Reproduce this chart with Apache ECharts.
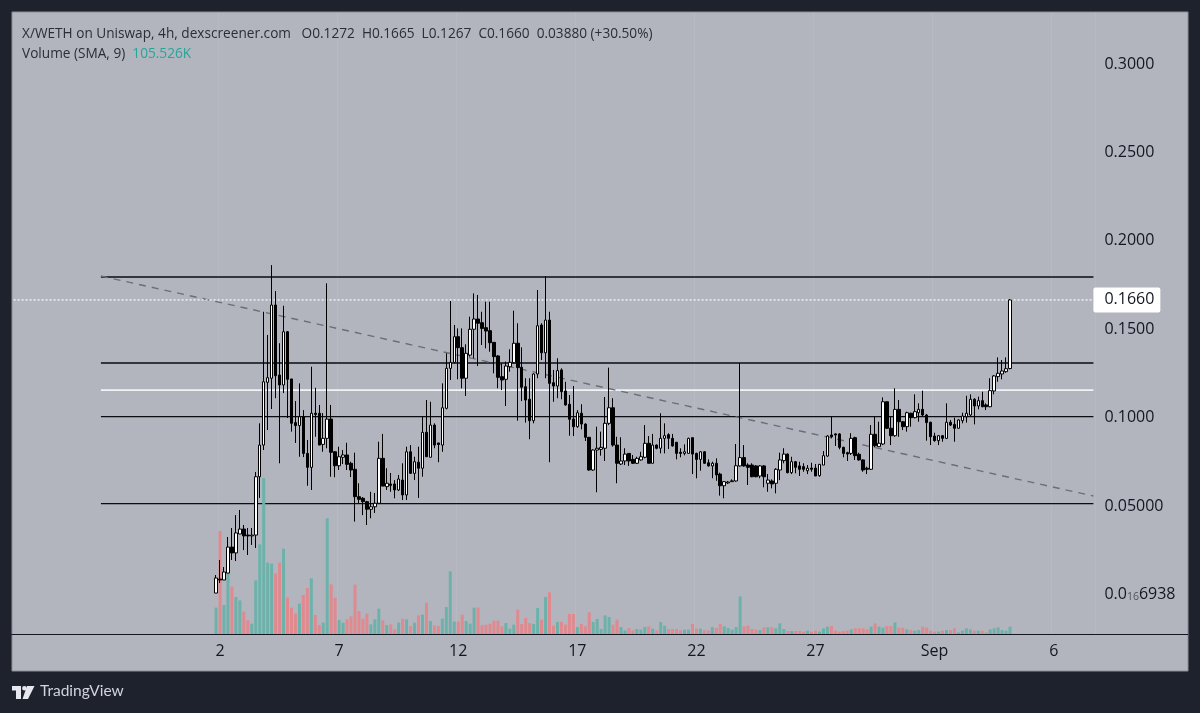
<!DOCTYPE html>
<html>
<head>
<meta charset="utf-8">
<title>X/WETH on Uniswap</title>
<style>
  html, body { margin: 0; background: #1e222d; }
  #chart { width: 1200px; height: 713px; }
</style>
<script src="https://cdn.jsdelivr.net/npm/echarts@6/dist/echarts.min.js"></script>
</head>
<body>
<div id="chart"></div>
<script>
// 4h candles, 201 of them, ten to a row
const opens = [
  .0002,.0081,.0076,.0115,.0262,.0229,.0336,.0364,.0330,.0325,
  .0330,.0660,.0839,.1194,.1217,.1631,.1235,.1179,.1480,.1213,
  .0966,.0949,.0999,.0792,.0713,.1019,.1019,.0843,.0877,.0986,
  .0801,.0722,.0770,.0783,.0736,.0702,.0547,.0538,.0519,.0476,
  .0490,.0510,.0764,.0604,.0619,.0619,.0585,.0641,.0557,.0801,
  .0679,.0742,.0708,.0911,.0770,.0952,.0851,.0839,.1047,.1273,
  .1307,.1452,.1390,.1217,.1348,.1494,.1552,.1531,.1503,.1486,
  .1420,.1343,.1226,.1211,.1282,.1305,.1415,.1279,.1169,.1098,
  .0977,.1241,.1518,.1361,.1546,.1192,.1173,.1264,.1145,.1070,
  .0986,.0943,.1019,.0958,.0883,.0698,.0811,.0815,.0821,.0962,
  .1050,.0839,.0732,.0749,.0792,.0758,.0736,.0755,.0770,.0849,
  .0736,.0839,.0821,.0877,.0898,.0877,.0855,.0798,.0792,.0792,
  .0881,.0792,.0758,.0801,.0739,.0721,.0736,.0675,.0609,.0625,
  .0632,.0636,.0721,.0768,.0726,.0726,.0721,.0664,.0721,.0623,
  .0636,.0623,.0698,.0751,.0788,.0683,.0745,.0721,.0717,.0694,
  .0709,.0709,.0666,.0726,.0777,.0896,.0902,.0902,.0826,.0796,
  .0792,.0881,.0787,.0755,.0708,.0702,.0900,.0830,.0845,.1084,
  .0934,.0892,.1041,.0971,.0943,.1019,.0994,.1022,.1041,.1009,
  .0968,.0890,.0864,.0892,.0877,.0968,.0956,.0934,.0977,.0999,
  .1009,.1098,.1060,.1090,.1066,.1056,.1145,.1226,.1241,.1254,.1272
];
const closes = [
  .0087,.0076,.0121,.0262,.0229,.0342,.0364,.0325,.0325,.0330,
  .0660,.0839,.1197,.1220,.1631,.1231,.1179,.1480,.1211,.0962,
  .0949,.0999,.0792,.0713,.1019,.1012,.0839,.0877,.0986,.0798,
  .0722,.0773,.0783,.0730,.0698,.0547,.0532,.0519,.0476,.0490,
  .0510,.0764,.0607,.0623,.0611,.0585,.0647,.0557,.0801,.0679,
  .0745,.0708,.0911,.0773,.0952,.0839,.0842,.1050,.1273,.1307,
  .1452,.1390,.1217,.1358,.1494,.1552,.1528,.1499,.1484,.1418,
  .1339,.1222,.1207,.1286,.1307,.1415,.1277,.1166,.1094,.0977,
  .1241,.1514,.1361,.1546,.1188,.1173,.1260,.1141,.1066,.0985,
  .0943,.1022,.0958,.0883,.0698,.0811,.0821,.0826,.0962,.1050,
  .0839,.0736,.0749,.0788,.0749,.0736,.0764,.0773,.0849,.0736,
  .0839,.0821,.0877,.0892,.0877,.0834,.0792,.0792,.0801,.0877,
  .0788,.0758,.0801,.0736,.0721,.0736,.0670,.0609,.0632,.0630,
  .0637,.0722,.0768,.0721,.0713,.0660,.0660,.0721,.0660,.0641,
  .0619,.0702,.0755,.0788,.0683,.0745,.0713,.0702,.0702,.0708,
  .0702,.0664,.0730,.0779,.0890,.0886,.0896,.0826,.0792,.0788,
  .0877,.0779,.0755,.0698,.0702,.0900,.0835,.0849,.1084,.0934,
  .0892,.1041,.0971,.0943,.1022,.0994,.1028,.1041,.1009,.0966,
  .0886,.0864,.0892,.0877,.0968,.0952,.0934,.0981,.1003,.1019,
  .1098,.1060,.1090,.1056,.1056,.1147,.1230,.1245,.1258,.1271,.1660
];
const lows = [
  .0002,.0059,.0076,.0115,.0189,.0183,.0336,.0245,.0217,.0274,
  .0257,.0540,.0811,.0924,.1043,.1104,.0736,.1133,.0992,.0915,
  .0851,.0773,.0771,.0609,.0585,.0886,.0839,.0801,.0821,.0660,
  .0657,.0698,.0732,.0698,.0658,.0406,.0510,.0443,.0387,.0425,
  .0455,.0510,.0607,.0585,.0575,.0538,.0579,.0528,.0528,.0679,
  .0641,.0540,.0660,.0773,.0770,.0821,.0742,.0801,.1041,.1207,
  .1301,.1211,.1160,.1117,.1339,.1330,.1286,.1405,.1386,.1367,
  .1245,.1160,.1150,.1060,.1254,.1301,.0977,.1088,.0966,.0872,
  .0962,.1217,.1320,.1217,.0742,.1084,.1104,.1098,.1062,.0892,
  .0890,.0937,.0928,.0862,.0694,.0694,.0572,.0779,.0749,.0952,
  .0830,.0623,.0726,.0726,.0721,.0732,.0732,.0751,.0764,.0736,
  .0736,.0815,.0792,.0792,.0817,.0830,.0758,.0770,.0781,.0792,
  .0675,.0651,.0694,.0732,.0717,.0651,.0637,.0553,.0538,.0619,
  .0630,.0632,.0717,.0717,.0613,.0657,.0657,.0651,.0600,.0575,
  .0594,.0566,.0641,.0736,.0679,.0675,.0679,.0664,.0688,.0675,
  .0688,.0664,.0660,.0726,.0773,.0877,.0834,.0815,.0770,.0749,
  .0783,.0755,.0751,.0688,.0675,.0698,.0826,.0830,.0839,.0930,
  .0839,.0886,.0886,.0924,.0915,.0943,.0990,.0971,.1003,.0864,
  .0839,.0858,.0839,.0858,.0873,.0947,.0858,.0932,.0962,.0966,
  .1003,.0956,.1041,.1053,.1037,.1053,.1126,.1197,.1211,.1248,.1267
];
const highs = [
  .0104,.0189,.0149,.0319,.0370,.0443,.0472,.0387,.0370,.0370,
  .0687,.0962,.1593,.1462,.1857,.1710,.1415,.1627,.1484,.1213,
  .1088,.1188,.1037,.0868,.1282,.1163,.1066,.1020,.1754,.1066,
  .0805,.0830,.0811,.0852,.0745,.0796,.0623,.0545,.0523,.0575,
  .0568,.0858,.0902,.0708,.0681,.0641,.0670,.0736,.0830,.0839,
  .0773,.0830,.0999,.1094,.1084,.0962,.0851,.1188,.1358,.1654,
  .1518,.1499,.1499,.1409,.1565,.1697,.1688,.1593,.1650,.1650,
  .1420,.1348,.1301,.1311,.1381,.1599,.1528,.1392,.1217,.1217,
  .1245,.1716,.1528,.1795,.1593,.1264,.1330,.1273,.1197,.1122,
  .1173,.1037,.1070,.0962,.0883,.0815,.0943,.0915,.1111,.1277,
  .1104,.0886,.0883,.0821,.0792,.0783,.0773,.0801,.0952,.0890,
  .0902,.0843,.1019,.0962,.0906,.0902,.0855,.0821,.0843,.0881,
  .0881,.0796,.0805,.0805,.0758,.0745,.0764,.0683,.0636,.0636,
  .0645,.0845,.1303,.0839,.0736,.0736,.0726,.0726,.0726,.0675,
  .0645,.0708,.0796,.0821,.0792,.0773,.0749,.0745,.0736,.0726,
  .0739,.0732,.0732,.0805,.0896,.0999,.0906,.0906,.0830,.0801,
  .0906,.0886,.0796,.0758,.0717,.0952,.0999,.0971,.1109,.1084,
  .0999,.1160,.1094,.0975,.1028,.1022,.1126,.1075,.1147,.1015,
  .0971,.0909,.0896,.0896,.1075,.0981,.0994,.0985,.1022,.1118,
  .1126,.1104,.1113,.1141,.1075,.1217,.1235,.1335,.1320,.1335,.1665
];
// volume in thousands
const volumes = [
  527,2060,580,1227,947,740,673,447,273,207,
  1073,1793,3120,1427,1407,1213,1427,1707,727,527,
  407,607,780,920,1113,380,180,227,2313,993,
  727,280,227,293,353,987,460,307,407,193,
  293,507,273,180,193,93,227,307,293,160,
  227,373,387,627,260,173,160,307,540,1253,
  247,247,387,260,207,527,527,175,187,207,
  267,267,153,220,107,187,487,200,320,220,
  200,520,287,740,833,167,240,240,187,400,
  400,140,200,153,433,240,300,100,373,340,
  187,287,140,73,120,73,100,87,140,153,
  107,73,240,167,100,100,100,73,87,87,
  200,107,107,73,73,140,120,200,153,120,
  87,140,753,153,167,100,87,80,133,133,
  133,113,213,100,60,60,60,60,47,67,
  47,67,47,113,147,160,67,47,60,67,
  93,113,113,113,93,147,213,147,127,160,
  160,233,127,127,93,80,67,80,147,127,
  67,47,47,67,80,80,113,33,67,113,
  93,67,67,67,33,93,113,133,80,67,147
];

// drawn levels and the falling trend line
const levelPrices = [0.179, 0.1303, 0.1, 0.0508];
const midLevelPrice = 0.115;
const lastPrice = 0.166;
const trendPrices = [0.1795, 0.0551];

const priceTicks = [0, 0.05, 0.1, 0.15, 0.2, 0.25, 0.3];
const priceTickLabels = ["0.0{sub|16}6938", "0.05000", "0.1000", "0.1500", "0.2000", "0.2500", "0.3000"];
const dayTickSlots = [52, 82, 112, 142, 172, 202, 232, 262];
const dayTickLabels = ["2", "7", "12", "17", "22", "27", "Sep", "6"];

const slotCount = 273;
const firstCandleSlot = 51;
const levelStartSlot = 22;
const lastSlot = 272;

const font = "Open Sans";
const teal = "#26a69a";

const categories = Array.from({ length: slotCount }, (_, i) => {
  const at = dayTickSlots.indexOf(i);
  return at < 0 ? "" : dayTickLabels[at];
});
const showDayTick = (i, value) => value !== "";

// slots before the first candle stay empty
const candleData = categories.map((_, i) => {
  const k = i - firstCandleSlot;
  if (k < 0 || k >= opens.length) return ["-", "-", "-", "-"];
  return [opens[k], closes[k], lows[k], highs[k]];
});
const volumeData = volumes.map((v, k) => [firstCandleSlot + k, v]);

function levelSeries(price, color, width) {
  return {
    type: "line",
    data: [[levelStartSlot, price], [lastSlot, price]],
    showSymbol: false,
    silent: true,
    z: 1,
    lineStyle: { color: color, width: width },
  };
}

const myChart = echarts.init(document.getElementById("chart"));

const option = {
  animation: false,
  backgroundColor: "#1e222d",
  title: [
    {
      left: 17,
      top: 22,
      text: "X/WETH on Uniswap, 4h, dexscreener.com   O0.1272  H0.1665  L0.1267  C0.1660  0.03880 (+30.50%)",
      textStyle: { fontFamily: font, fontSize: 13.65, fontWeight: "normal", color: "#2a2e39" },
    },
    {
      left: 17,
      top: 42,
      text: "Volume (SMA, 9)  {v|105.526K}",
      textStyle: {
        fontFamily: font,
        fontSize: 13.65,
        fontWeight: "normal",
        color: "#2a2e39",
        rich: { v: { fontFamily: font, fontSize: 13.65, color: teal } },
      },
    },
  ],
  grid: { left: 11.6, top: 12, width: 1083.8, height: 622 },
  xAxis: {
    type: "category",
    data: categories,
    axisLine: { onZero: false, lineStyle: { color: "#131722", width: 1 } },
    axisTick: { show: false },
    axisLabel: {
      interval: showDayTick,
      margin: 9,
      fontFamily: font,
      fontSize: 16,
      color: "#131722",
    },
    splitLine: {
      show: true,
      interval: showDayTick,
      lineStyle: { color: "rgba(255,255,255,0.07)", width: 1 },
    },
  },
  yAxis: [
    {
      type: "value",
      position: "right",
      min: -0.02296,
      max: 0.32885,
      axisLine: { show: false },
      axisTick: { show: false },
      splitLine: { show: false },
      axisLabel: {
        customValues: priceTicks,
        margin: 9,
        align: "left",
        padding: [2, 0, 0, 0],
        fontFamily: font,
        fontSize: 16,
        color: "#131722",
        formatter: (value) => priceTickLabels[priceTicks.indexOf(value)],
        rich: { sub: { fontFamily: font, fontSize: 10.5, color: "#50535e", verticalAlign: "bottom" } },
      },
    },
    {
      type: "value",
      show: false,
      min: 0,
      max: 12440,
      splitLine: { show: false },
    },
  ],
  series: [
    ...levelPrices.map((p) => levelSeries(p, "#0b0d12", 1.4)),
    levelSeries(midLevelPrice, "#f2f3f6", 1.6),
    {
      type: "line",
      data: [[levelStartSlot, trendPrices[0]], [lastSlot, trendPrices[1]]],
      showSymbol: false,
      silent: true,
      z: 1,
      lineStyle: { color: "#6b6e78", width: 1.4, type: [7, 6] },
    },
    {
      type: "line",
      data: [[0, lastPrice], [lastSlot, lastPrice]],
      showSymbol: false,
      silent: true,
      z: 1,
      lineStyle: { color: "#ffffff", width: 1.2, type: [2, 2] },
      endLabel: {
        show: true,
        formatter: lastPrice.toFixed(4),
        distance: 0,
        padding: [6, 6, 5, 11],
        lineHeight: 14,
        borderRadius: 2,
        backgroundColor: "#ffffff",
        fontFamily: font,
        fontSize: 16,
        color: "#131722",
      },
    },
    {
      type: "bar",
      yAxisIndex: 1,
      data: volumeData,
      barWidth: 3,
      z: 2,
      itemStyle: {
        color: (p) => (closes[p.dataIndex] >= opens[p.dataIndex] ? "#6cb2aa" : "#e0898f"),
      },
    },
    {
      type: "candlestick",
      data: candleData,
      barWidth: 3,
      z: 3,
      itemStyle: {
        color: "#ffffff",
        color0: "#000000",
        borderColor: "#000000",
        borderColor0: "#000000",
        borderWidth: 1,
      },
    },
  ],
  graphic: {
    elements: [
      {
        type: "rect",
        z: -10,
        shape: { x: 12, y: 12, width: 1176, height: 659 },
        style: { fill: "#b2b5be", stroke: "#8b8e98", lineWidth: 1 },
      },
      {
        type: "line",
        z: 5,
        shape: { x1: 12, y1: 634.5, x2: 1188, y2: 634.5 },
        style: { stroke: "#131722", lineWidth: 1 },
      },
      // TradingView mark
      {
        type: "polygon",
        shape: { points: [[12, 686], [21, 686], [21, 699], [16, 699], [16, 690.5], [12, 690.5]] },
        style: { fill: "#e6e8ee" },
      },
      { type: "circle", shape: { cx: 24.4, cy: 688.2, r: 2.3 }, style: { fill: "#e6e8ee" } },
      {
        type: "polygon",
        shape: { points: [[27, 686], [34.5, 686], [28, 699], [22.5, 699]] },
        style: { fill: "#e6e8ee" },
      },
      {
        type: "text",
        x: 40,
        y: 683,
        style: { text: "TradingView", fontFamily: "Lato", fontSize: 15.5, fill: "#d1d4dc" },
      },
    ],
  },
};

myChart.setOption(option);
</script>
</body>
</html>
